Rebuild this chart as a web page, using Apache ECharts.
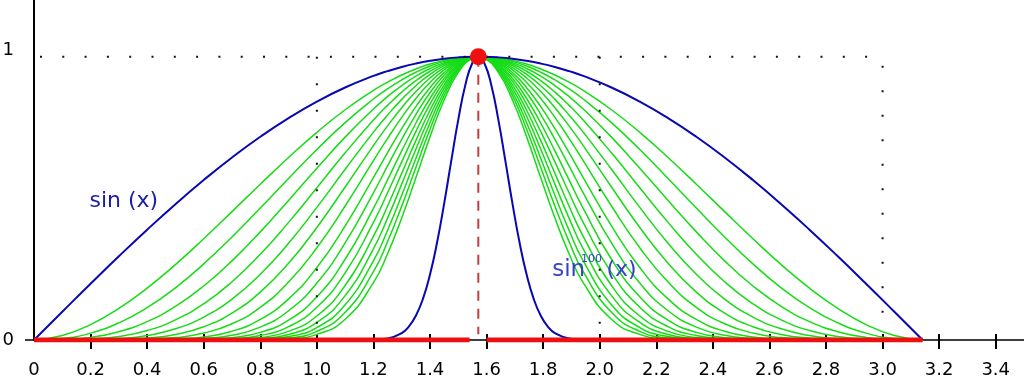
<!DOCTYPE html>
<html>
<head>
<meta charset="utf-8">
<style>
  html, body { margin: 0; padding: 0; background: #fff; }
  #chart { width: 1024px; height: 376px; }
</style>
<script src="https://cdn.jsdelivr.net/npm/echarts@6/dist/echarts.min.js"></script>
</head>
<body>
<div id="chart"></div>
<script>
// sample positions on the left half, up to the peak at pi/2
var xGrid = [0, 0.1, 0.2, 0.3, 0.4, 0.5, 0.6, 0.7, 0.8, 0.9, 1.0, 1.1, 1.2, 1.25, 1.3, 1.35, 1.4, 1.45, 1.5, 1.55, 1.5708];
var peak = [1.5708, 1];
var xEnd = 3.1416;

// sin(x), blue
var sinCurve = [0, 0.0998, 0.1987, 0.2955, 0.3894, 0.4794, 0.5646, 0.6442, 0.7174, 0.7833, 0.8415, 0.8912, 0.932, 0.949, 0.9636, 0.9757, 0.9854, 0.9927, 0.9975, 0.9998, 1];

// green curves, outer to inner
var greenCurves = [
  [0, 0.0158, 0.0545, 0.1114, 0.1831, 0.2662, 0.3575, 0.4532, 0.5499, 0.6443, 0.7329, 0.8127, 0.881, 0.91, 0.9354, 0.9567, 0.974, 0.9869, 0.9955, 0.9996, 1],
  [0, 0.005, 0.0243, 0.0606, 0.1143, 0.1843, 0.2686, 0.3638, 0.4658, 0.5702, 0.6723, 0.7672, 0.8505, 0.8865, 0.9182, 0.945, 0.9668, 0.9833, 0.9942, 0.9995, 1],
  [0, 0.0013, 0.0092, 0.0292, 0.0649, 0.1186, 0.1907, 0.2794, 0.3816, 0.4925, 0.6062, 0.716, 0.8153, 0.8591, 0.898, 0.9312, 0.9584, 0.979, 0.9927, 0.9994, 1],
  [0, 0.0002, 0.003, 0.0124, 0.0335, 0.0709, 0.1278, 0.2054, 0.3024, 0.4151, 0.5372, 0.6606, 0.7762, 0.8282, 0.8749, 0.9153, 0.9486, 0.974, 0.991, 0.9992, 1],
  [0, 0, 0.0008, 0.0047, 0.0158, 0.0394, 0.0809, 0.1445, 0.2319, 0.3415, 0.468, 0.6024, 0.7336, 0.7942, 0.8493, 0.8975, 0.9375, 0.9683, 0.989, 0.999, 1],
  [0, 0, 0.0002, 0.0015, 0.0064, 0.0196, 0.047, 0.0951, 0.1691, 0.2708, 0.3972, 0.5399, 0.6862, 0.7556, 0.8199, 0.8768, 0.9246, 0.9616, 0.9866, 0.9988, 1],
  [0, 0, 0, 0.0004, 0.0022, 0.0084, 0.0244, 0.0574, 0.1154, 0.2045, 0.3257, 0.473, 0.6328, 0.7115, 0.7856, 0.8523, 0.9091, 0.9536, 0.9838, 0.9986, 1],
  [0, 0, 0, 0.0001, 0.0006, 0.003, 0.011, 0.031, 0.0725, 0.1453, 0.2557, 0.4025, 0.5734, 0.6612, 0.7459, 0.8235, 0.8906, 0.9438, 0.9803, 0.9983, 1],
  [0, 0, 0, 0, 0.0002, 0.0011, 0.0049, 0.0168, 0.0455, 0.1032, 0.2009, 0.3425, 0.5196, 0.6144, 0.7081, 0.7957, 0.8726, 0.9342, 0.9769, 0.998, 1],
  [0, 0, 0, 0, 0, 0.0003, 0.002, 0.0083, 0.0268, 0.0698, 0.1524, 0.2849, 0.4642, 0.5651, 0.6672, 0.765, 0.8523, 0.9233, 0.973, 0.9976, 1],
  [0, 0, 0, 0, 0, 0.0001, 0.0008, 0.0041, 0.0157, 0.0472, 0.1156, 0.2369, 0.4148, 0.5197, 0.6288, 0.7355, 0.8325, 0.9126, 0.9691, 0.9973, 1],
  [0, 0, 0, 0, 0, 0, 0.0003, 0.0019, 0.0086, 0.0304, 0.0848, 0.1925, 0.3654, 0.4729, 0.5881, 0.7036, 0.8109, 0.9007, 0.9647, 0.9969, 1],
  [0, 0, 0, 0, 0, 0, 0.0001, 0.0008, 0.0048, 0.0196, 0.0621, 0.1565, 0.3219, 0.4303, 0.5501, 0.6732, 0.7898, 0.8889, 0.9603, 0.9965, 1],
  [0, 0, 0, 0, 0, 0, 0, 0.0003, 0.0024, 0.012, 0.044, 0.1243, 0.2796, 0.3876, 0.5107, 0.6409, 0.767, 0.876, 0.9555, 0.9961, 1],
  [0, 0, 0, 0, 0, 0, 0, 0.0001, 0.0012, 0.0072, 0.0306, 0.0976, 0.2412, 0.3472, 0.4725, 0.6086, 0.7437, 0.8626, 0.9505, 0.9956, 1],
  [0, 0, 0, 0, 0, 0, 0, 0, 0.0005, 0.0039, 0.0199, 0.0732, 0.2023, 0.3046, 0.4306, 0.5724, 0.7169, 0.847, 0.9445, 0.9951, 1]
];

// sin^100(x), blue, finer sampling near the peak
var x100 = [1.1, 1.15, 1.2, 1.25, 1.3, 1.325, 1.35, 1.375, 1.4, 1.425, 1.45, 1.475, 1.5, 1.525, 1.55, 1.5708];
var y100 = [0, 0.0001, 0.0009, 0.0053, 0.0244, 0.0473, 0.0856, 0.1452, 0.2309, 0.3441, 0.4811, 0.6315, 0.7778, 0.9003, 0.9786, 1];

// limit on the axis (red), with a gap around the peak
var limitLeft = [0, 1.54];
var limitRight = [1.6, xEnd];

// dotted guide box: top edge and verticals (x, lowest value)
var guideTop = [0, 3];
var guideX = [1, 2, 3];
var guideBottom = [0, 0, 0.08];

var xTicks = [0.2, 0.4, 0.6, 0.8, 1.0, 1.2, 1.4, 1.6, 1.8, 2.0, 2.2, 2.4, 2.6, 2.8, 3.0, 3.2, 3.4];
var xLabels = [0, 0.2, 0.4, 0.6, 0.8, 1.0, 1.2, 1.4, 1.6, 1.8, 2.0, 2.2, 2.4, 2.6, 2.8, 3.0, 3.2, 3.4];
var yLabels = [0, 1];

var notes = [
  { text: 'sin (x)', pos: [0.196, 0.491], size: 22, color: '#1c1caa' },
  { text: 'sin', pos: [1.832, 0.247], size: 23, color: '#3442c6' },
  { text: '100', pos: [1.934, 0.286], size: 11, color: '#3442c6' },
  { text: '(x)', pos: [2.024, 0.247], size: 22, color: '#3442c6' }
];

function mirrored(xs, ys) {
  var pts = [];
  for (var i = 0; i < xs.length; i++) pts.push([xs[i], ys[i]]);
  for (var j = xs.length - 2; j >= 0; j--) pts.push([2 * peak[0] - xs[j], ys[j]]);
  return pts;
}

var chart = echarts.init(document.getElementById('chart'));
var font = 'DejaVu Sans';
var series = [];

greenCurves.forEach(function (ys) {
  series.push({
    type: 'line', data: mirrored(xGrid, ys), smooth: true, showSymbol: false, silent: true,
    lineStyle: { color: '#16dc16', width: 1.5 }, z: 2
  });
});

series.push({
  type: 'line', data: mirrored(xGrid, sinCurve), smooth: true, showSymbol: false, silent: true,
  lineStyle: { color: '#0808b0', width: 2 }, z: 3
});
series.push({
  type: 'line', data: mirrored(x100, y100), smooth: true, showSymbol: false, silent: true,
  lineStyle: { color: '#0808b0', width: 2 }, z: 3
});

[limitLeft, limitRight].forEach(function (seg) {
  series.push({
    type: 'line', data: [[seg[0], 0], [seg[1], 0]], showSymbol: false, silent: true,
    lineStyle: { color: '#ee1010', width: 5, cap: 'butt' }, z: 4
  });
});

series.push({
  type: 'line', data: [[peak[0], peak[1]], [peak[0], 0.02]], showSymbol: false, silent: true,
  lineStyle: { color: '#c83c3c', width: 2, type: [10, 8], cap: 'butt' }, z: 4
});

series.push({
  type: 'line', data: [[guideTop[0], 1], [guideTop[1], 1]], showSymbol: false, silent: true,
  lineStyle: { color: '#111', width: 2, type: [2, 20.3], dashOffset: 16.3, cap: 'butt' }, z: 5
});
guideX.forEach(function (gx, i) {
  var last = i === guideX.length - 1;
  series.push({
    type: 'line', data: [[gx, 1], [gx, guideBottom[i]]], showSymbol: false, silent: true,
    lineStyle: {
      color: '#111', width: 2, cap: 'butt',
      type: last ? [2, 22.5] : [2, 24.5], dashOffset: last ? 15.5 : 0
    },
    z: 5
  });
});

series.push({
  type: 'scatter', data: [peak], symbolSize: 17, silent: true,
  itemStyle: { color: '#ee1010', opacity: 1 }, z: 6
});

series.push({
  type: 'scatter', symbolSize: 0, silent: true, z: 7,
  itemStyle: { opacity: 1 },
  data: notes.map(function (n) {
    return {
      value: n.pos,
      label: {
        show: true, position: 'right', distance: 0, formatter: n.text,
        fontSize: n.size, fontFamily: font, color: n.color, opacity: 1
      }
    };
  })
});

var tickLine = { color: '#000', width: 2 };

chart.setOption({
  animation: false,
  grid: { left: 34, right: 0, top: 0, bottom: 36, outerBoundsMode: 'none', containLabel: false },
  xAxis: [
    {
      type: 'value', min: 0, max: 3.5, position: 'bottom',
      axisLine: { show: true, onZero: false, lineStyle: { color: '#000', width: 1.5 } },
      axisTick: { show: true, customValues: xTicks, length: 9, lineStyle: tickLine },
      axisLabel: {
        customValues: xLabels, fontSize: 18, fontFamily: font, color: '#000', margin: 21,
        formatter: function (v) { return v === 0 ? '0' : v.toFixed(1); }
      },
      splitLine: { show: false }
    },
    {
      type: 'value', min: 0, max: 3.5, position: 'bottom',
      axisLine: { show: false },
      axisTick: { show: true, inside: true, customValues: xTicks, length: 6, lineStyle: tickLine },
      axisLabel: { show: false },
      splitLine: { show: false }
    }
  ],
  yAxis: {
    type: 'value', min: 0, max: 1.2,
    axisLine: { show: true, onZero: false, lineStyle: { color: '#000', width: 2 } },
    axisTick: { show: true, customValues: [0], length: 9, lineStyle: { color: '#000', width: 1.5 } },
    axisLabel: {
      customValues: yLabels, fontSize: 18, fontFamily: font, color: '#000', margin: 20,
      formatter: function (v) { return v === 1 ? '{up|1}' : '0'; },
      rich: { up: { fontSize: 18, fontFamily: font, color: '#000', padding: [0, 0, 12, 0] } }
    },
    splitLine: { show: false }
  },
  series: series
});
</script>
</body>
</html>
